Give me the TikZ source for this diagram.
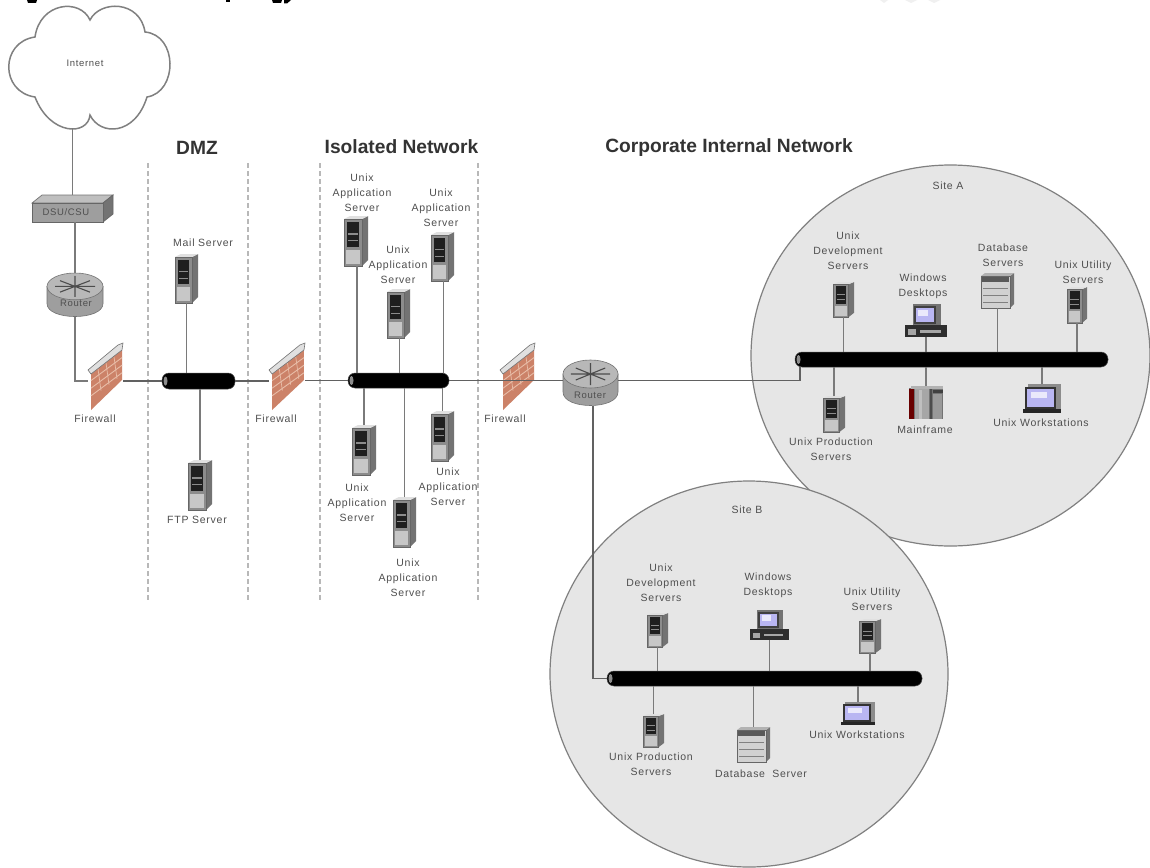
\documentclass[tikz,border=0pt]{standalone}
\usepackage{fontspec}
\setmainfont{Liberation Sans}
\newfontfamily\lblfont[LetterSpace=7]{Liberation Sans}
\newfontfamily\ttlfont{Liberation Sans}
\usetikzlibrary{fit,shapes.geometric}
\definecolor{lblgray}{HTML}{4F4F4F}
\definecolor{conngray}{HTML}{7A7A7A}
\definecolor{divgray}{HTML}{B8B8B8}
\definecolor{sitefill}{HTML}{E6E6E6}
\definecolor{sitedraw}{HTML}{808080}
\definecolor{brick}{HTML}{CC8268}
\definecolor{brickl}{HTML}{E8BDA8}
\definecolor{screen}{HTML}{B9B6F2}
\tikzset{
  x=1pt,y=-1pt,
  iconbox/.style={inner sep=0pt,outer sep=0pt,draw=none},
  lbl/.style={inner sep=0pt,align=center,text=lblgray,font=\lblfont\fontsize{10.5}{15}\selectfont},
  ttl/.style={inner sep=0pt,text=black!80,font=\ttlfont\bfseries\fontsize{19.2}{20}\selectfont},
  conn/.style={draw=conngray,line width=1.9pt},
  thinconn/.style={draw=black!62,line width=1.3pt},
  divider/.style={draw=divgray,line width=2.9pt,dash pattern=on 5pt off 3pt},
  sitearea/.style={ellipse,draw=sitedraw,fill=sitefill,line width=1.2pt,inner sep=0pt},
  busbar/.style={fill=black,draw=black!70,rounded corners=7pt,inner sep=0pt,line width=.5pt},
  cloudline/.style={draw=black!50,fill=white,line width=1.5pt},
}
% scope helper: icon drawn in W x H design units inside the box x1,y1,x2,y2
\newcommand{\iconstart}[7]{%
  \node[iconbox,fit={(#2,#3)(#4,#5)}] (#1) {};
  \pgfmathsetmacro\icsx{(#4-#2)/#6}\pgfmathsetmacro\icsy{(#5-#3)/#7}
  \begin{scope}[shift={(#2,#3)},x=\icsx pt,y=-\icsy pt]}
\newcommand{\tower}[5]{\iconstart{#1}{#2}{#3}{#4}{#5}{24}{50}
  \fill[black!55] (18,3)--(24,0)--(24,44)--(18,50)--cycle;
  \fill[black!12] (0,3)--(6,0)--(24,0)--(18,3)--cycle;
  \fill[black!45] (0,3) rectangle (18,50);
  \fill[black!88] (3,6) rectangle (15,31);
  \fill[black!45] (4,17) rectangle (14,18.5);
  \fill[black!45] (4,24) rectangle (14,25);
  \fill[black!22] (2,34) rectangle (16,48);
  \draw[black!60,line width=.6pt] (0,3) rectangle (18,50);
  \end{scope}}
\newcommand{\firewall}[5]{\iconstart{#1}{#2}{#3}{#4}{#5}{35}{67}
  \fill[brick] (3,30)--(34,7)--(34,37)--(3,67)--cycle;
  \foreach \k in {1,2,3}{\draw[brickl,line width=.9pt] (3,30+7.6*\k)--(34,7+7.6*\k);}
  \foreach \k in {10,18,26}{\draw[brickl,line width=.7pt] (\k,27-.74*\k+6)--(\k+3,55-.74*\k);}
  \fill[black!12,draw=black!55,line width=.6pt] (0,27)--(30,2)--(35,0)--(34,7)--(3,31)--cycle;
  \end{scope}}
\newcommand{\router}[5]{\iconstart{#1}{#2}{#3}{#4}{#5}{56}{46}
  \fill[black!38,draw=black!55,line width=.6pt] (0,14)--(0,32) .. controls (0,50) and (56,50) .. (56,32)--(56,14)--cycle;
  \fill[black!28,draw=black!55,line width=.6pt] (28,14) ellipse[x radius=28,y radius=14];
  \draw[black!70,line width=1.1pt] (13,8)--(43,20) (13,20)--(43,8) (28,3)--(28,25) (8,14)--(48,14);
  \end{scope}}
\newcommand{\desktop}[5]{\iconstart{#1}{#2}{#3}{#4}{#5}{42}{33}
  \fill[black!55] (8,0) rectangle (36,21);
  \fill[black!75] (9,2) rectangle (31,20);
  \fill[screen] (11,4) rectangle (29,18);
  \fill[white!70!screen] (13,6) rectangle (23,12);
  \fill[black!82] (0,21) rectangle (42,33);
  \fill[black!35] (3,25) rectangle (11,31);
  \fill[black!35] (15,26) rectangle (36,29);
  \end{scope}}
\newcommand{\laptop}[5]{\iconstart{#1}{#2}{#3}{#4}{#5}{38}{29}
  \fill[black!45] (5,0) rectangle (38,25);
  \fill[black!80] (2,3) rectangle (33,25);
  \fill[screen] (4,5) rectangle (31,23);
  \fill[white!70!screen] (8,8) rectangle (24,14);
  \fill[black!85] (0,25) rectangle (38,29);
  \end{scope}}
\newcommand{\database}[5]{\iconstart{#1}{#2}{#3}{#4}{#5}{33}{35}
  \fill[black!55] (29,3)--(33,0)--(33,31)--(29,35)--cycle;
  \fill[black!30] (0,3)--(4,0)--(33,0)--(29,3)--cycle;
  \fill[black!18,draw=black!60,line width=.7pt] (0,3) rectangle (29,35);
  \fill[black!65] (1,4) rectangle (28,9);
  \draw[black!50,line width=.6pt] (2,15)--(27,15) (2,22)--(27,22) (2,29)--(27,29);
  \end{scope}}
\newcommand{\mainframe}[5]{\iconstart{#1}{#2}{#3}{#4}{#5}{34}{33}
  \fill[black!55] (0,2) rectangle (34,33);
  \fill[black!30] (2,0) rectangle (34,3);
  \fill[black!45!red!75!black] (0,3) rectangle (5,33);
  \fill[black!35] (6,3) rectangle (20,33);
  \fill[black!25] (10,4) rectangle (13,33);
  \fill[black!70] (21,3) rectangle (23,33);
  \fill[black!40] (24,8) rectangle (33,33);
  \fill[black!75] (24,4) rectangle (34,7);
  \end{scope}}
\newcommand{\busnode}[5]{%
  \pgfmathsetmacro\bw{#4-#2}\pgfmathsetmacro\bh{#5-#3}
  \pgfmathsetmacro\bcx{(#2+#4)/2}\pgfmathsetmacro\bcy{(#3+#5)/2}
  \node[busbar,minimum width=\bw pt,minimum height=\bh pt] (#1) at (\bcx,\bcy) {};
  \fill[black!45] (#2+3.5,\bcy) ellipse[x radius=2,y radius=4.5];}
\begin{document}
\begin{tikzpicture}
\useasboundingbox (0,0) rectangle (1150,867);
\fill[white] (0,0) rectangle (1150,867);
% clipped remains of the page heading and the watermark at the top edge
\fill[black] (27,0)--(37,0)--(36,3)--(28,3)--cycle;
\fill[black] (226,0) rectangle (230,2.5);
\fill[black] (272,0)--(282,0)--(281,3)--(273,3)--cycle;
\fill[black] (284,0)--(291,0)--(287,3.5)--(284,3.5)--cycle;
\fill[black!6] (880,0)--(888,0)--(884,3)--cycle (905,0)--(917,0)--(911,3)--cycle (928,0)--(940,0)--(934,3)--cycle;

% site areas
\node[sitearea,minimum width=399pt,minimum height=381pt] (siteA) at (950.5,355.5) {};
\node[sitearea,minimum width=398pt,minimum height=386pt] (siteB) at (749,674) {};

% dividers
\foreach \n/\xx in {d1/148,d2/248,d3/320,d4/478}{
  \coordinate (\n t) at (\xx,163);
  \coordinate (\n b) at (\xx,600);
  \draw[divider] (\n t)--(\n b);
}

% titles
\node[ttl] (tdmz) at (197,148) {DMZ};
\node[ttl] (tiso) at (401.5,147) {Isolated Network};
\node[ttl] (tcorp) at (729,148) {Corporate Internal Network};
\node[lbl] (tsitea) at (948,186) {Site A};
\node[lbl] (tsiteb) at (747,510) {Site B};

% cloud
\node[iconbox,fit={(9,6)(170,128)}] (cloud) {};
\draw[cloudline] (35,37) .. controls (40,2) and (80,-2) .. (90,20)
  .. controls (100,0) and (140,0) .. (145,32)
  .. controls (178,35) and (178,92) .. (147,97)
  .. controls (135,136) and (100,136) .. (90,115)
  .. controls (88,136) and (50,136) .. (35,97)
  .. controls (0,92) and (0,42) .. (35,37) -- cycle;
\node[lbl] (inet) at (85,63) {\fontsize{9.5}{12}\selectfont Internet};

% DSU/CSU
\node[iconbox,fit={(32,195)(113,222)}] (dsu) {};
\fill[black!25,draw=black!55,line width=.7pt] (32,203)--(42,195)--(113,195)--(103,203)--cycle;
\fill[black!55,draw=black!60,line width=.7pt] (103,203)--(113,195)--(113,214)--(103,222)--cycle;
\fill[black!38,draw=black!60,line width=.7pt] (32,203) rectangle (103,222);
\node[lbl] (dsulbl) at (66,212.5) {\fontsize{9.5}{12}\selectfont DSU/CSU};

% network devices
\router{rone}{47}{273}{103}{317}
\node[lbl] (ronel) at (76,303) {\fontsize{9.5}{12}\selectfont Router};
\router{rtwo}{563}{360}{618}{406}
\node[lbl] (rtwol) at (590,395) {\fontsize{9.5}{12}\selectfont Router};
\firewall{fwa}{88}{343}{123}{410}
\firewall{fwb}{269}{343}{305}{410}
\firewall{fwc}{500}{343}{535}{410}
\node[lbl] (fwal) at (95,419) {Firewall};
\node[lbl] (fwbl) at (276,419) {Firewall};
\node[lbl] (fwcl) at (505,419) {Firewall};

% buses
\busnode{busdmz}{162}{373}{235}{389}
\busnode{busiso}{348}{373}{449}{388}
\busnode{busa}{795}{352}{1108}{367}
\busnode{busb}{607}{671}{922}{686}

% DMZ servers
\tower{mail}{175}{254}{198}{303}
\node[lbl] (maill) at (203,243) {Mail Server};
\tower{ftp}{188}{460}{212}{510}
\node[lbl] (ftpl) at (197,520) {FTP Server};

% isolated network servers
\node[lbl] (iaol) at (362,193) {Unix\\Application\\Server};
\node[lbl] (ibol) at (398,265) {Unix\\Application\\Server};
\node[lbl] (icol) at (441,208) {Unix\\Application\\Server};
\node[lbl] (idol) at (357,503) {Unix\\Application\\Server};
\node[lbl] (ieol) at (448,487) {Unix\\Application\\Server};
\node[lbl] (ifol) at (408,578) {Unix\\Application\\Server};
\tower{iao}{344}{216}{368}{266}
\tower{ibo}{387}{289}{410}{338}
\tower{ico}{431}{232}{454}{281}
\tower{ido}{352}{425}{376}{475}
\tower{ieo}{431}{411}{454}{461}
\tower{ifo}{393}{497}{416}{547}

% site A
\tower{adev}{833}{282}{854}{317}
\node[lbl] (adevl) at (848,251) {Unix\\Development\\Servers};
\desktop{adesk}{905}{304}{947}{337}
\node[lbl] (adeskl) at (923,286.5) {Windows\\Desktops};
\database{adb}{981}{273}{1014}{308}
\node[lbl] (adbl) at (1003,255.5) {Database\\Servers};
\tower{autil}{1067}{287}{1087}{323}
\node[lbl] (autill) at (1083,272) {Unix Utility\\Servers};
\tower{aprod}{823}{396}{845}{432}
\node[lbl] (aprodl) at (831,449.5) {Unix Production\\Servers};
\mainframe{amain}{909}{386}{943}{419}
\node[lbl] (amainl) at (925,430) {Mainframe};
\laptop{alap}{1023}{384}{1061}{413}
\node[lbl] (alapl) at (1041,423) {Unix Workstations};

% site B
\tower{bdev}{647}{613}{668}{647}
\node[lbl] (bdevl) at (661,582.5) {Unix\\Development\\Servers};
\desktop{bdesk}{750}{610}{789}{640}
\node[lbl] (bdeskl) at (768,585) {Windows\\Desktops};
\tower{butil}{859}{619}{881}{653}
\node[lbl] (butill) at (872,599) {Unix Utility\\Servers};
\tower{bprod}{643}{714}{664}{747}
\node[lbl] (bprodl) at (651,764.5) {Unix Production\\Servers};
\database{bdb}{737}{727}{770}{762}
\node[lbl] (bdbl) at (761,774) {Database\ \ Server};
\laptop{blap}{841}{702}{875}{725}
\node[lbl] (blapl) at (857,735) {Unix Workstations};

% connectors
\draw[conn] (cloud.south -| dsu.north)--(dsu.north);
\draw[conn] (dsu.south -| rone.north)--(rone.north);
\draw[conn] (rone.south) |- (fwa.west |- busdmz.west);
\draw[thinconn] (fwa.east |- busdmz.west)--(busdmz.west);
\draw[thinconn] (busdmz.east)--(fwb.west |- busdmz.east);
\draw[thinconn] (fwb.east |- busiso.west)--(busiso.west);
\draw[thinconn] (busiso.east)--(rtwo.west |- busiso.east);
\coordinate (adrop) at (800,367);
\draw[thinconn] (rtwo.east |- busiso.east) -| (adrop);
\draw[thinconn] ([xshift=2.5pt]rtwo.south) |- (busb.west);
\draw[conn] (mail.south)--(mail.south |- busdmz.north);
\draw[conn] (ftp.north)--(ftp.north |- busdmz.south);
\foreach \s in {iao,ibo,ico}{\draw[conn] ([xshift=1pt]\s.south)--([xshift=1pt]\s.south |- busiso.north);}
\foreach \s in {ido,ieo,ifo}{\draw[conn] (\s.north)--(\s.north |- busiso.south);}
\foreach \s in {adev,adesk,adb,autil}{\draw[conn] (\s.south)--(\s.south |- busa.north);}
\foreach \s in {aprod,amain,alap}{\draw[conn] (\s.north)--(\s.north |- busa.south);}
\foreach \s in {bdev,bdesk,butil}{\draw[conn] (\s.south)--(\s.south |- busb.north);}
\foreach \s in {bprod,bdb,blap}{\draw[conn] (\s.north)--(\s.north |- busb.south);}
\end{tikzpicture}
\end{document}
